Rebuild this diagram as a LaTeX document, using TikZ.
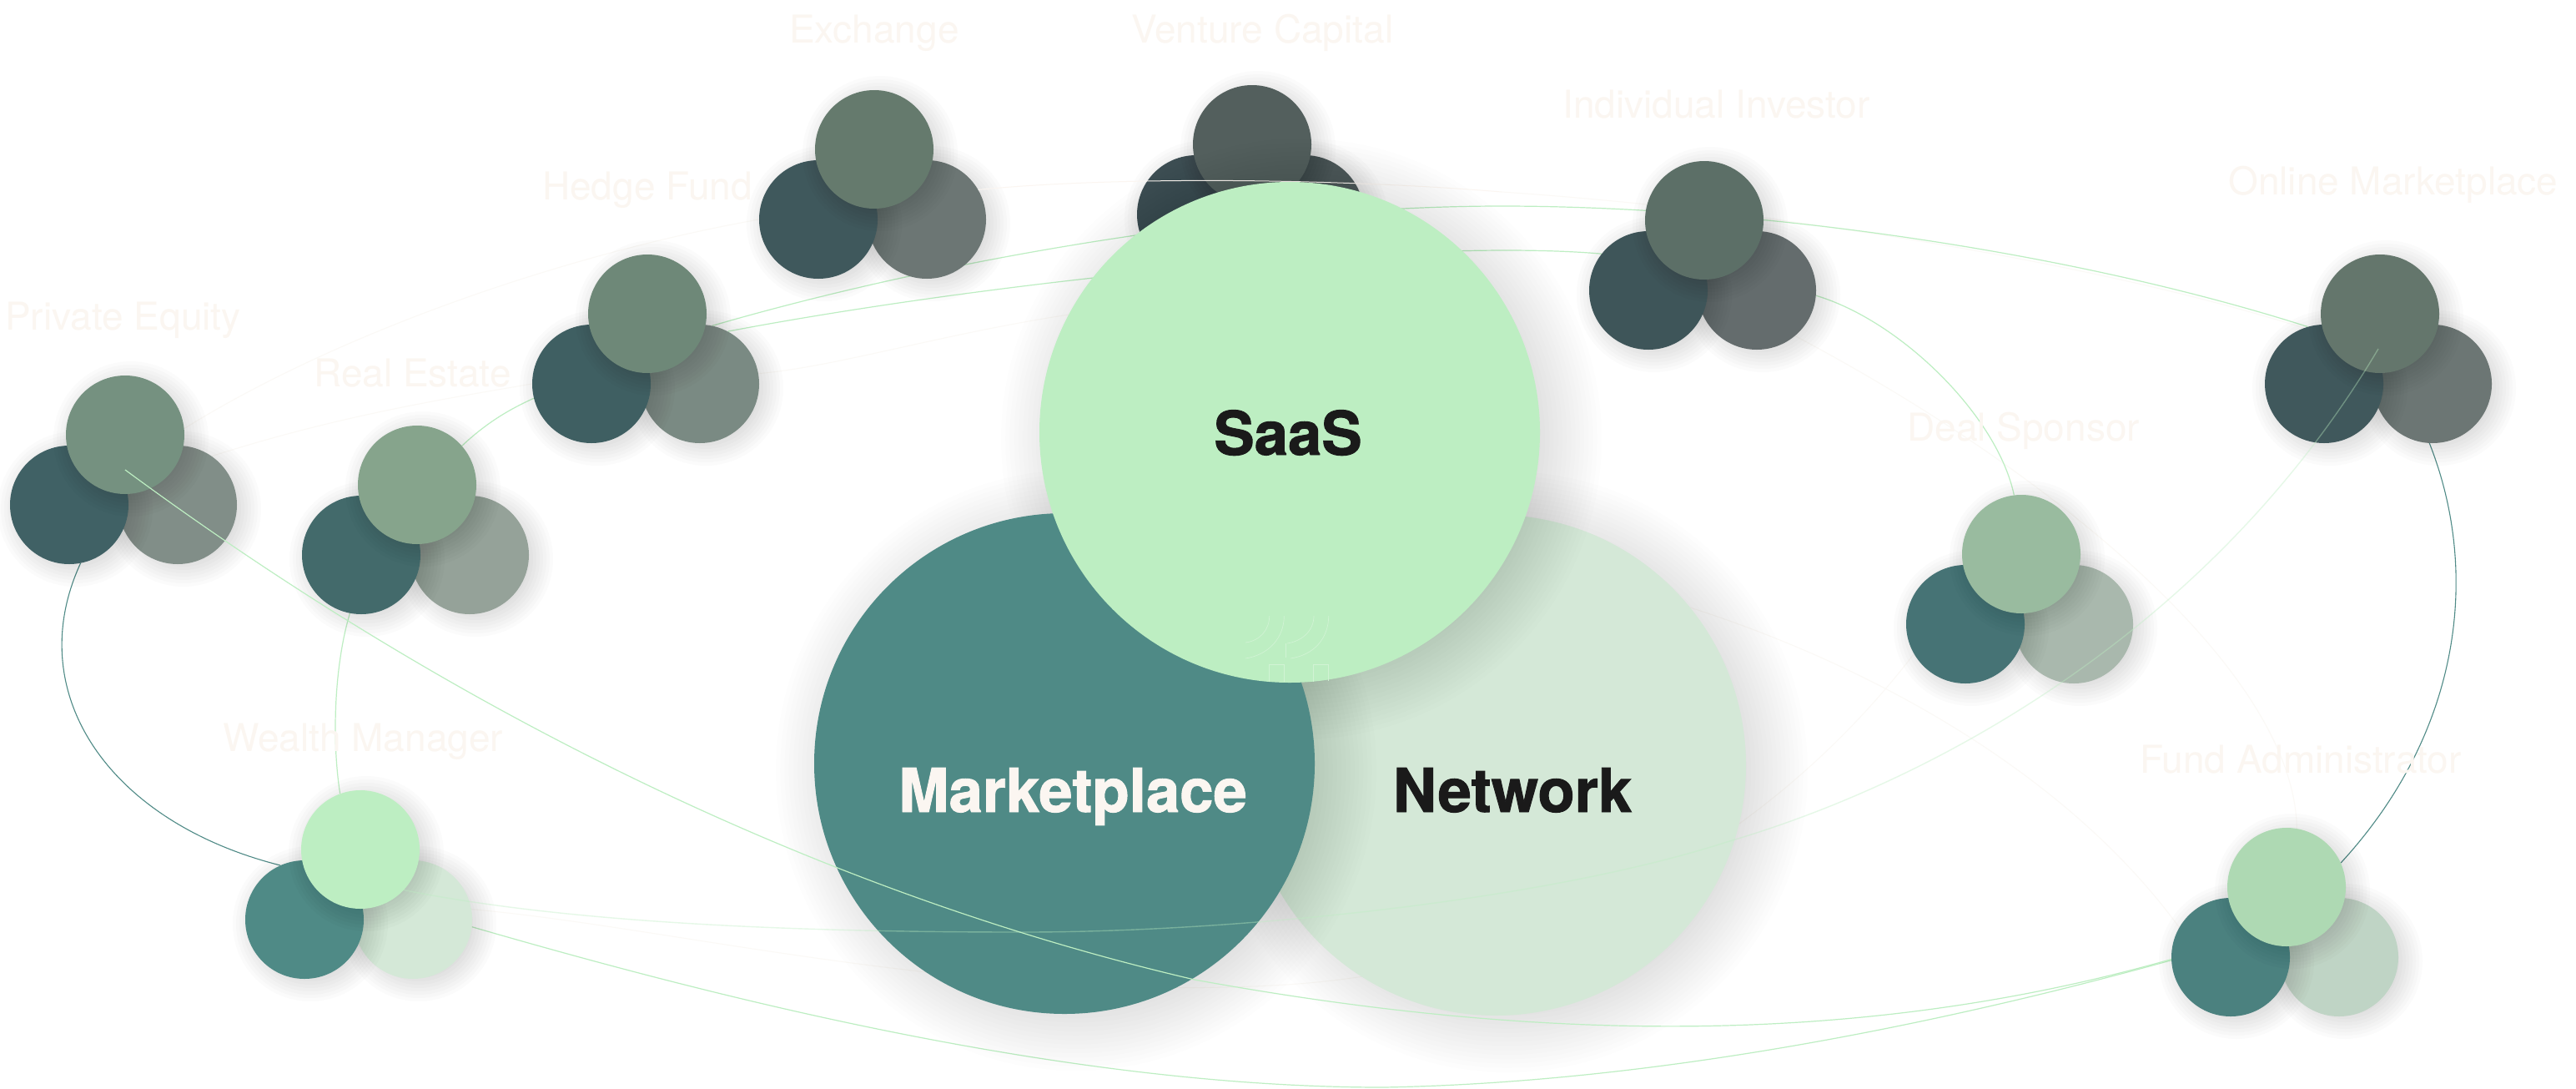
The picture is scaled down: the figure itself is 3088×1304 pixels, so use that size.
\documentclass[tikz,border=0pt]{standalone}
\usepackage{fontspec}
\setmainfont{TeX Gyre Heros}[BoldFeatures={FakeBold=1.3}]
\pgfdeclarelayer{bg}
\pgfdeclarelayer{under}
\pgfdeclarelayer{mid}
\pgfdeclarelayer{big}
\pgfdeclarelayer{over}
\pgfsetlayers{bg,under,main,mid,big,over}
\definecolor{cream}{HTML}{FBF6F1}
\definecolor{faintline}{HTML}{FBF9F6}
\definecolor{leaf}{HTML}{BDEEC2}
\definecolor{teal}{HTML}{4F8A86}
\definecolor{mist}{HTML}{D4E8D7}
\definecolor{ink}{HTML}{1A1A1A}
\tikzset{
  smallc/.style={circle,draw=none,inner sep=0pt,minimum size=142pt},
  bigc/.style={circle,draw=none,inner sep=0pt,minimum size=600pt},
  faintlabel/.style={anchor=base west,inner sep=0pt,text=cream,font=\fontsize{46}{50}\selectfont},
  biglabel/.style={anchor=base,inner sep=0pt,font=\fontsize{72.5}{78}\selectfont\bfseries},
  gline/.style={draw=leaf,line width=1.2pt},
  dline/.style={draw=teal,line width=1.1pt},
  fline/.style={draw=faintline,line width=1pt},
  softline/.style={draw=leaf,line width=1.4pt,opacity=.38},
  glyphline/.style={draw=leaf!70!white,line width=.7pt}
}
% #1,#2 centre  #3 radius  #4 spread  #5,#6 offset  #7 steps  #8 opacity per step
\newcommand{\softs}[8]{%
  \foreach \i [evaluate=\i as \rr using {#3+#4-2*#4*(\i-1)/(#7-1)}] in {1,...,#7}{%
    \fill[black,opacity=#8] (#1+#5,#2+#6) circle[radius=\rr];
  }%
}
\newcommand{\clu}[6]{%
  \definecolor{#1cr}{HTML}{#6}\definecolor{#1cl}{HTML}{#5}\definecolor{#1ct}{HTML}{#4}%
  \softs{#2+63}{#3+84}{71}{22}{7}{5}{12}{.017}
  \node[smallc,fill=#1cr] (#1-r) at (#2+63,#3+84) {};
  \softs{#2-67}{#3+84}{71}{22}{7}{5}{12}{.017}
  \node[smallc,fill=#1cl] (#1-l) at (#2-67,#3+84) {};
  \softs{#2}{#3}{71}{22}{7}{5}{12}{.017}
  \node[smallc,fill=#1ct] (#1-t) at (#2,#3) {};
}
\begin{document}
\begin{tikzpicture}[x=1pt,y=-1pt]
\useasboundingbox (0,0) rectangle (3088,1304);
\begin{pgfonlayer}{bg}
\fill[white] (0,0) rectangle (3088,1304);
\end{pgfonlayer}
% clusters
\clu{pe}{150}{521}{759180}{406165}{818E88}
\clu{real}{500}{581}{86A48C}{436A6B}{95A299}
\clu{hedge}{776}{376}{6E8878}{3F5F62}{7A8A83}
\clu{exch}{1048}{179}{657A6D}{3F585C}{6C7674}
\clu{vc}{1501}{173}{535F5D}{3C4D52}{4F5A5B}
\clu{indiv}{2043}{264}{5C6F67}{3E5559}{646C6D}
\clu{om}{2853}{376}{64766C}{40585C}{6C7674}
\clu{deal}{2423}{664}{99BB9F}{467375}{A9B8AD}
\clu{fund}{2741}{1063}{AED9B3}{4B817F}{BFD4C5}
\clu{wealth}{432}{1018}{BDEEC2}{4F8A86}{D4E8D7}
% big circles
\begin{pgfonlayer}{big}
\softs{1793}{917}{300}{60}{14}{8}{24}{.008}
\node[bigc,fill=mist] (network) at (1793,917) {};
\softs{1546}{518}{300}{60}{14}{8}{24}{.009}
\softs{1276}{915}{300}{60}{14}{8}{24}{.008}
\node[bigc,fill=teal] (market) at (1276,915) {};
\node[bigc,fill=leaf] (saas) at (1546,518) {};
\end{pgfonlayer}
% labels
\node[faintlabel] (lpe) at (6,395) {Private Equity};
\node[faintlabel] (lreal) at (376,463) {Real Estate};
\node[faintlabel] (lhedge) at (650,239) {Hedge Fund};
\node[faintlabel] (lexch) at (946,51) {Exchange};
\node[faintlabel] (lvc) at (1356,51) {Venture Capital};
\node[faintlabel] (lindiv) at (1873,141) {Individual Investor};
\node[faintlabel] (lom) at (2671,233) {Online Marketplace};
\node[faintlabel] (ldeal) at (2286,528) {Deal Sponsor};
\node[faintlabel] (lfund) at (2565,926) {Fund Administrator};
\node[faintlabel] (lwealth) at (267,900) {Wealth Manager};
\begin{pgfonlayer}{over}
\node[biglabel,text=ink] (tsaas) at (1544,545) {SaaS};
\node[biglabel,text=cream] (tmarket) at (1286,973) {Marketplace};
\node[biglabel,text=ink] (tnetwork) at (1813,973) {Network};
\end{pgfonlayer}
\coordinate (archmid) at (1800,230);
% connectors under the clusters
\begin{pgfonlayer}{under}
\draw[fline] (pe-t.6) .. controls (420,390) and (700,300) .. (exch-l.180);
\draw[fline] (pe-r.55) .. controls (400,500) and (520,480) .. (hedge-l.180);
\draw[fline] (hedge-r.10) .. controls (1000,440) and (1130,400) .. (saas.152);
\draw[fline] (wealth-r.10) .. controls (800,1110) and (1150,1200) .. (1524,1181) .. controls (1850,1165) and (2120,1010) .. (deal-l.-150);
\draw[fline] (indiv-r.-50) .. controls (2450,560) and (2750,800) .. (fund-t.80);
\draw[fline] (network.39) .. controls (2250,800) and (2480,930) .. (fund-l.150);
\draw[fline] (archmid) .. controls (2100,250) and (2500,310) .. (om-l.110);
\draw[dline] (pe-l.-79) .. controls (25,830) and (130,985) .. (wealth-l.114);
\draw[dline] (om-r.-93) .. controls (2975,690) and (2948,880) .. (fund-t.24);
\draw[gline] (hedge-r.78) .. controls (1130,310) and (1500,247) .. (1800,247) .. controls (2100,247) and (2480,300) .. (om-l.106);
\draw[gline] (hedge-r.62) .. controls (1200,335) and (1700,285) .. (indiv-l.142);
\draw[gline] (indiv-r.-5) .. controls (2280,385) and (2395,500) .. (deal-t.97);
\draw[gline] (real-t.41) .. controls (585,505) and (612,490) .. (hedge-l.194);
\draw[gline] (real-l.-101) .. controls (400,800) and (398,890) .. (wealth-t.110);
\draw[gline] (wealth-r.-7) .. controls (840,1190) and (1270,1303) .. (1658,1303) .. controls (1950,1298) and (2280,1240) .. (fund-l.-177);
\end{pgfonlayer}
% faint arc over Venture Capital, under the big circles
\begin{pgfonlayer}{mid}
\draw[fline,draw=cream] (exch-r.30) .. controls (1350,210) and (1620,215) .. (archmid);
\end{pgfonlayer}
% connectors over everything
\begin{pgfonlayer}{over}
\coordinate (pestart) at (150,563);
\coordinate (omend) at (2851,418);
\draw[gline] (pestart) .. controls (560,865) and (1002,1074) .. (1432,1174) .. controls (1822,1245) and (2214,1260) .. (fund-l.-178);
\draw[softline] (wealth-t.-43) .. controls (700,1110) and (1000,1117) .. (1227,1117) .. controls (1480,1117) and (1850,1080) .. (2070,1009) .. controls (2340,930) and (2660,740) .. (omend);
% faint marks on the lower edge of SaaS
\draw[glyphline] (1521.7,738) .. controls (1521.7,755) and (1510,768) .. (1493,770);
\draw[glyphline] (1539.3,738) .. controls (1539.3,765) and (1520,785) .. (1493,789);
\draw[glyphline] (1575,738) .. controls (1575,755) and (1562,768) .. (1543,771);
\draw[glyphline] (1592.7,738) .. controls (1592.7,765) and (1575,785) .. (1547,789);
\draw[glyphline] (1541.7,771) -- (1541.7,788);
\draw[glyphline] (1521.7,817) -- (1521.7,796.7) -- (1539.3,796.7) -- (1539.3,817);
\draw[glyphline] (1574,817) -- (1574,796.7) -- (1592.7,796.7) -- (1592.7,816);
\end{pgfonlayer}
\end{tikzpicture}
\end{document}
